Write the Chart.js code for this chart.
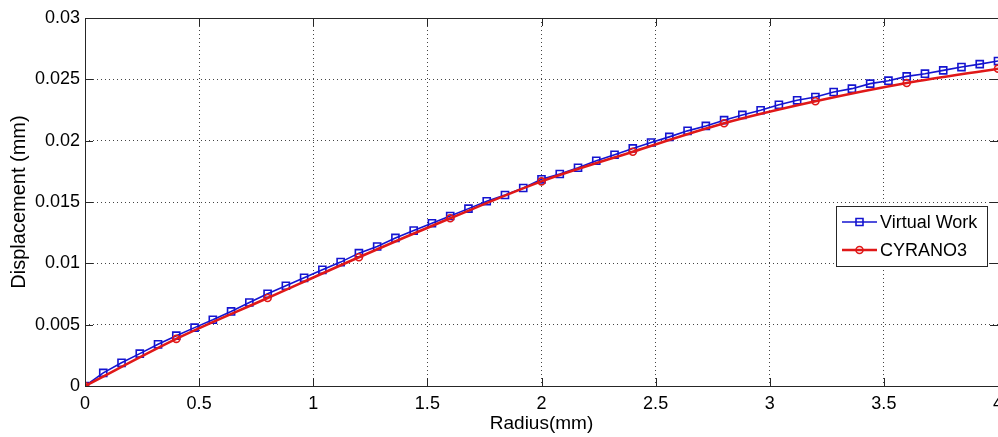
<!DOCTYPE html>
<html>
<head>
<meta charset="utf-8">
<script src="https://cdn.jsdelivr.net/npm/chart.js@4.4.1/dist/chart.umd.min.js"></script>
<style>
  html, body { margin: 0; padding: 0; background: #fff; overflow: hidden; }
  canvas { display: block; }
</style>
</head>
<body>
<canvas id="chart" width="1015" height="437"></canvas>
<script>
// Virtual Work: square markers every 0.08 mm
const radiusVW = [
  0, 0.08, 0.16, 0.24, 0.32, 0.4, 0.48, 0.56, 0.64, 0.72,
  0.8, 0.88, 0.96, 1.04, 1.12, 1.2, 1.28, 1.36, 1.44, 1.52,
  1.6, 1.68, 1.76, 1.84, 1.92, 2.0, 2.08, 2.16, 2.24, 2.32,
  2.4, 2.48, 2.56, 2.64, 2.72, 2.8, 2.88, 2.96, 3.04, 3.12,
  3.2, 3.28, 3.36, 3.44, 3.52, 3.6, 3.68, 3.76, 3.84, 3.92, 4.0,
];
const dispVW = [
  0, 0.00107, 0.00189, 0.00264, 0.0034, 0.0041, 0.00476, 0.0054, 0.00608, 0.00681,
  0.00752, 0.00817, 0.00882, 0.00947, 0.0101, 0.01083, 0.01137, 0.01207, 0.01267, 0.01327,
  0.01386, 0.01446, 0.01506, 0.01557, 0.01614, 0.01685, 0.01728, 0.01779, 0.01836, 0.01885,
  0.01937, 0.01985, 0.02031, 0.0208, 0.0212, 0.02167, 0.0221, 0.02248, 0.02292, 0.02329,
  0.02356, 0.02397, 0.02424, 0.02465, 0.02489, 0.02524, 0.02546, 0.02573, 0.026, 0.02624, 0.02649,
];

// CYRANO3: circle markers every 0.4 mm
const radiusCY = [0, 0.4, 0.8, 1.2, 1.6, 2.0, 2.4, 2.8, 3.2, 3.6, 4.0];
const dispCY = [0, 0.00384, 0.00717, 0.0105, 0.01367, 0.01668, 0.0191, 0.02142, 0.02321, 0.0247, 0.02587];

const FONT = "'Liberation Sans', Arial, Helvetica, sans-serif";
const BLUE = "#1414d0";
const RED = "#e01818";
const TICK_LEN = 8;

const toPoints = (xs, ys) => xs.map((x, i) => ({ x, y: ys[i] }));
const fmt = (v) => String(+v.toFixed(3));

// MATLAB-like frame: full box and inward ticks
const matlabFrame = {
  id: "matlabFrame",
  afterDatasetsDraw(chart) {
    const { ctx, chartArea: a, scales } = chart;
    ctx.save();
    ctx.strokeStyle = "#262626";
    ctx.lineWidth = 1;
    ctx.beginPath();
    scales.x.ticks.forEach((t) => {
      const px = Math.round(scales.x.getPixelForValue(t.value)) + 0.5;
      ctx.moveTo(px, a.bottom);
      ctx.lineTo(px, a.bottom - TICK_LEN);
      ctx.moveTo(px, a.top);
      ctx.lineTo(px, a.top + TICK_LEN);
    });
    scales.y.ticks.forEach((t) => {
      const py = Math.round(scales.y.getPixelForValue(t.value)) + 0.5;
      ctx.moveTo(a.left, py);
      ctx.lineTo(a.left + TICK_LEN, py);
      ctx.moveTo(a.right, py);
      ctx.lineTo(a.right - TICK_LEN, py);
    });
    ctx.stroke();
    ctx.strokeRect(Math.round(a.left) + 0.5, Math.round(a.top) + 0.5,
      Math.round(a.right - a.left), Math.round(a.bottom - a.top));
    ctx.restore();
  },
  afterDraw(chart) {
    const { ctx } = chart;
    const box = { x: 836.5, y: 206.5, w: 151, h: 60 };
    ctx.save();
    ctx.fillStyle = "#fff";
    ctx.fillRect(box.x, box.y, box.w, box.h);
    ctx.strokeStyle = "#262626";
    ctx.lineWidth = 1;
    ctx.strokeRect(box.x, box.y, box.w, box.h);
    ctx.font = "18px " + FONT;
    ctx.textBaseline = "middle";
    chart.data.datasets.forEach((ds, i) => {
      const y = 222 + i * 28;
      ctx.strokeStyle = ds.borderColor;
      ctx.lineWidth = ds.borderWidth;
      ctx.beginPath();
      ctx.moveTo(842, y);
      ctx.lineTo(877, y);
      ctx.stroke();
      ctx.lineWidth = ds.pointBorderWidth;
      ctx.beginPath();
      if (ds.pointStyle === "rect") {
        ctx.rect(856, y - 3.5, 7, 7);
      } else {
        ctx.arc(859.5, y, ds.pointRadius, 0, Math.PI * 2);
      }
      ctx.stroke();
      ctx.fillStyle = "#000";
      ctx.fillText(ds.label, 880, y + 1);
    });
    ctx.restore();
  },
};

const ctx = document.getElementById("chart").getContext("2d");

new Chart(ctx, {
  type: "scatter",
  data: {
    datasets: [
      {
        label: "Virtual Work",
        data: toPoints(radiusVW, dispVW),
        showLine: true,
        borderColor: BLUE,
        borderWidth: 1.6,
        pointStyle: "rect",
        pointRadius: 5,
        pointBorderWidth: 1.6,
        pointBorderColor: BLUE,
        pointBackgroundColor: "rgba(0,0,0,0)",
        order: 2,
      },
      {
        label: "CYRANO3",
        data: toPoints(radiusCY, dispCY),
        showLine: true,
        cubicInterpolationMode: "monotone",
        borderColor: RED,
        borderWidth: 2.6,
        pointStyle: "circle",
        pointRadius: 3.5,
        pointBorderWidth: 1.6,
        pointBorderColor: RED,
        pointBackgroundColor: "rgba(0,0,0,0)",
        order: 1,
      },
    ],
  },
  options: {
    responsive: false,
    animation: false,
    layout: { padding: { top: 18, right: 17, bottom: 0, left: 0 } },
    plugins: {
      legend: { display: false },
      tooltip: { enabled: false },
    },
    scales: {
      x: {
        type: "linear",
        min: 0,
        max: 4,
        ticks: {
          stepSize: 0.5,
          padding: 7,
          color: "#000",
          font: { family: FONT, size: 18 },
          callback: fmt,
          maxRotation: 0,
        },
        grid: { color: "#444", lineWidth: 1, drawTicks: false },
        border: { display: false, dash: [1, 3] },
        title: {
          display: true,
          text: "Radius(mm)",
          color: "#000",
          font: { family: FONT, size: 19 },
          padding: { top: 0, bottom: 2 },
        },
        afterFit: (s) => { s.height = 51; },
      },
      y: {
        type: "linear",
        min: 0,
        max: 0.03,
        ticks: {
          stepSize: 0.005,
          padding: 5,
          color: "#000",
          font: { family: FONT, size: 18 },
          callback: fmt,
        },
        grid: { color: "#444", lineWidth: 1, drawTicks: false },
        border: { display: false, dash: [1, 3] },
        title: {
          display: true,
          text: "Displacement (mm)",
          color: "#000",
          font: { family: FONT, size: 20 },
          padding: { top: 7, bottom: 0 },
        },
        afterFit: (s) => { s.width = 85; },
      },
    },
  },
  plugins: [matlabFrame],
});
</script>
</body>
</html>
